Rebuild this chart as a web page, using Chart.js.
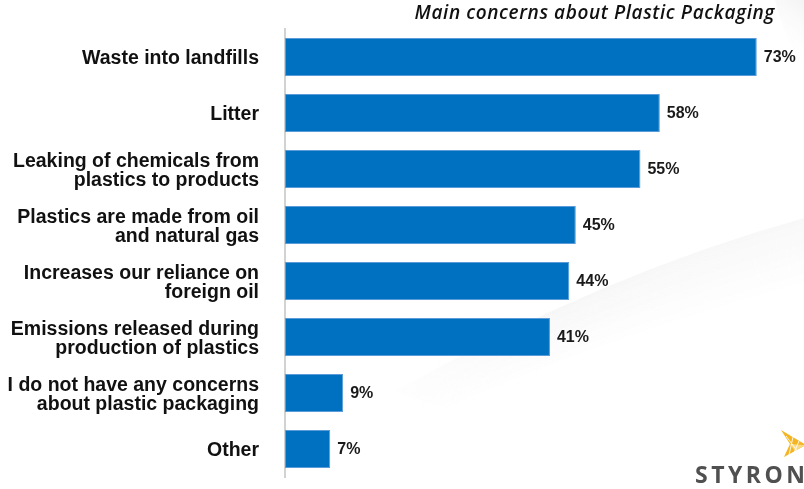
<!DOCTYPE html>
<html>
<head>
<meta charset="utf-8">
<script src="https://cdn.jsdelivr.net/npm/chart.js@4.4.1/dist/chart.umd.min.js"></script>
<style>
  html, body { margin: 0; padding: 0; background: #ffffff; }
  #wrap { width: 804px; height: 489px; position: relative; }
</style>
</head>
<body>
<div id="wrap"><canvas id="c" width="804" height="489"></canvas></div>
<script>
// Survey answers: main concerns about plastic packaging (share of respondents, %)
const concerns = [
  ['Waste into landfills'],
  ['Litter'],
  ['Leaking of chemicals from', 'plastics to products'],
  ['Plastics are made from oil', 'and natural gas'],
  ['Increases our reliance on', 'foreign oil'],
  ['Emissions released during', 'production of plastics'],
  ['I do not have any concerns', 'about plastic packaging'],
  ['Other']
];
const shares = [73, 58, 55, 45, 44, 41, 9, 7];
const chartTitle = 'Main concerns about Plastic Packaging';
const brandName = 'STYRON';

// Soft grey swoosh in the page background: a curved edge with a shadow fading downward
const swooshPlugin = {
  id: 'swoosh',
  beforeDraw(chart) {
    const ctx = chart.ctx;
    ctx.save();
    const depth = 70;
    for (let k = 0; k < depth; k++) {
      const a = 0.065 * (1 - k / depth);
      ctx.strokeStyle = 'rgba(150,150,150,' + a.toFixed(4) + ')';
      ctx.lineWidth = 1;
      ctx.beginPath();
      ctx.moveTo(806, 218 + k);
      ctx.quadraticCurveTo(600, 275 + k, 395 + k * 0.8, 392 + k * 0.25);
      ctx.stroke();
    }
    // fade the left tail of the swoosh
    const g = ctx.createLinearGradient(400, 0, 560, 0);
    g.addColorStop(0, 'rgba(255,255,255,0.9)');
    g.addColorStop(1, 'rgba(255,255,255,0)');
    ctx.fillStyle = g;
    ctx.fillRect(390, 300, 170, 180);

    const g2 = ctx.createLinearGradient(804, 0, 770, 50);
    g2.addColorStop(0, 'rgba(232,232,232,0.5)');
    g2.addColorStop(1, 'rgba(255,255,255,0)');
    ctx.fillStyle = g2;
    ctx.beginPath();
    ctx.moveTo(775, 0);
    ctx.quadraticCurveTo(785, 40, 804, 70);
    ctx.lineTo(804, 0);
    ctx.closePath();
    ctx.fill();
    ctx.restore();
  }
};

// Title, value labels and the brand mark
const annotatePlugin = {
  id: 'annotate',
  afterDatasetsDraw(chart) {
    const ctx = chart.ctx;
    ctx.save();
    // value labels at the end of each bar
    ctx.font = 'bold 16px "Liberation Sans", Arial, sans-serif';
    ctx.fillStyle = '#1a1a1a';
    ctx.textAlign = 'left';
    ctx.textBaseline = 'middle';
    const meta = chart.getDatasetMeta(0);
    meta.data.forEach((bar, i) => {
      ctx.fillText(shares[i] + '%', bar.x + 7, bar.y + 1);
    });

    // chart title
    ctx.font = 'italic 600 19px "Open Sans", "Noto Sans", sans-serif';
    ctx.letterSpacing = '0.6px';
    ctx.fillStyle = '#111111';
    ctx.textAlign = 'right';
    ctx.textBaseline = 'alphabetic';
    ctx.fillText(chartTitle, 775, 19);

    // brand mark: faceted arrow icon and name
    ctx.letterSpacing = '0px';
    ctx.fillStyle = '#f4b520';
    ctx.beginPath();
    ctx.moveTo(781, 430);
    ctx.lineTo(806, 445);
    ctx.lineTo(784, 457);
    ctx.lineTo(790, 444);
    ctx.closePath();
    ctx.fill();
    ctx.fillStyle = '#fad982';
    ctx.beginPath();
    ctx.moveTo(790, 444);
    ctx.lineTo(806, 445);
    ctx.lineTo(795, 451);
    ctx.closePath();
    ctx.fill();
    ctx.strokeStyle = 'rgba(255,255,255,0.85)';
    ctx.lineWidth = 1;
    ctx.beginPath();
    ctx.moveTo(786, 436); ctx.lineTo(798, 452);
    ctx.moveTo(793, 437); ctx.lineTo(789, 455);
    ctx.moveTo(799, 441); ctx.lineTo(794, 453);
    ctx.stroke();

    ctx.font = 'bold 23px "Open Sans", "Noto Sans", sans-serif';
    ctx.letterSpacing = '3.5px';
    ctx.fillStyle = '#505050';
    ctx.textAlign = 'left';
    ctx.fillText(brandName, 695, 483);
    ctx.restore();
  }
};

new Chart(document.getElementById('c'), {
  type: 'bar',
  data: {
    labels: concerns,
    datasets: [{
      data: shares,
      backgroundColor: '#0070c0',
      borderColor: '#5a9bd8',
      borderWidth: 1,
      borderSkipped: false,
      categoryPercentage: 1,
      barPercentage: 0.68
    }]
  },
  options: {
    indexAxis: 'y',
    responsive: false,
    animation: false,
    layout: { padding: { top: 29, bottom: 12, left: 0, right: 2 } },
    plugins: {
      legend: { display: false },
      tooltip: { enabled: false },
      title: { display: false }
    },
    scales: {
      x: {
        display: false,
        min: 0,
        max: 80
      },
      y: {
        afterFit(scale) {
          scale.width = 285;
          scale.paddingTop = 0;
          scale.paddingBottom = 0;
        },
        grid: { display: false },
        border: { display: true, color: '#d2d2d2', width: 2 },
        ticks: {
          color: '#111111',
          padding: 18,
          labelOffset: 2,
          font: { family: '"Liberation Sans", Arial, sans-serif', size: 19.5, weight: 'bold', lineHeight: 1.0 }
        }
      }
    }
  },
  plugins: [swooshPlugin, annotatePlugin]
});
</script>
</body>
</html>
